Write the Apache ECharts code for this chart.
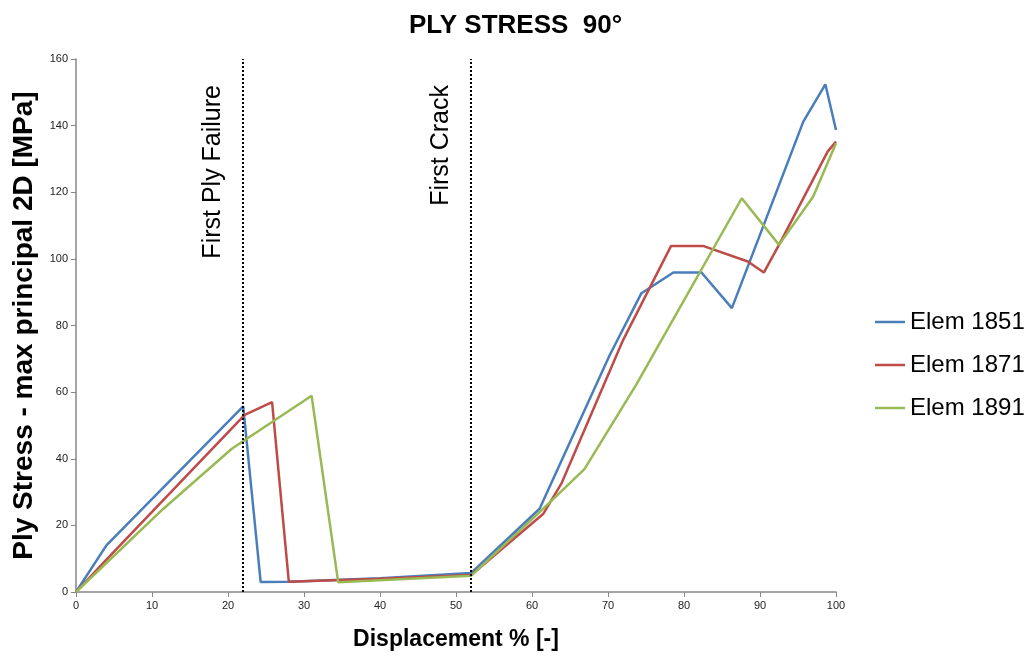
<!DOCTYPE html>
<html>
<head>
<meta charset="utf-8">
<script src="https://cdn.jsdelivr.net/npm/echarts@6/dist/echarts.min.js"></script>
<style>html,body{margin:0;padding:0;background:#fff}#c{width:1031px;height:666px}</style>
</head>
<body>
<div id="c"></div>
<script>
const seriesNames = ['Elem 1851', 'Elem 1871', 'Elem 1891'];
const xTicks = [0, 10, 20, 30, 40, 50, 60, 70, 80, 90, 100];
const yTicks = [0, 20, 40, 60, 80, 100, 120, 140, 160];

const elem1851X = [0, 4, 22, 24.3, 28, 40, 52, 61, 64, 70.2, 74.4, 78.6, 82.3, 86.3, 95.7, 98.6, 100];
const elem1851Y = [0, 14, 55.7, 3, 3.1, 4.1, 5.7, 25, 40, 71, 89.7, 95.9, 95.9, 85.2, 141.2, 152.4, 138.7];

const elem1871X = [0, 4, 22.2, 25.8, 28, 40, 52, 61.5, 63.9, 72, 78.3, 82.5, 88.4, 90.5, 92.5, 98.9, 100];
const elem1871Y = [0, 9.7, 53.2, 57, 3.1, 4, 5.1, 23.5, 32.7, 75.7, 103.9, 103.9, 99.2, 95.9, 104.2, 132.2, 135.2];

const elem1891X = [0, 11.5, 20.5, 31, 34.5, 52, 61, 66.9, 73.7, 87.6, 92.5, 97, 100];
const elem1891Y = [0, 25, 43, 58.9, 2.9, 4.9, 24, 36.9, 62.2, 118.2, 104.2, 118.7, 134.7];

const markerX = [22, 52];
const markerLabels = ['First Ply Failure', 'First Crack'];

const colors = ['#4a7ebb', '#be4b48', '#98b954'];

function pairs(xs, ys) { return xs.map((x, i) => [x, ys[i]]); }

const chart = echarts.init(document.getElementById('c'), null, { renderer: 'canvas' });
const font = 'Liberation Sans, Arial, sans-serif';

const data = [pairs(elem1851X, elem1851Y), pairs(elem1871X, elem1871Y), pairs(elem1891X, elem1891Y)];

const series = seriesNames.map((n, i) => ({
  name: n,
  type: 'line',
  data: data[i],
  symbol: 'none',
  showSymbol: false,
  lineStyle: { color: colors[i], width: 2.5 },
  itemStyle: { color: colors[i] },
  z: 3,
  animation: false
}));

series[0].markLine = {
  silent: true,
  symbol: 'none',
  animation: false,
  lineStyle: { color: '#000', type: [2, 2], width: 2 },
  label: {
    show: true,
    position: 'insideEndTop',
    fontFamily: font,
    fontSize: 25,
    color: '#000',
    distance: [26, 18]
  },
  data: markerX.map((x, i) => ({ xAxis: x, label: { formatter: markerLabels[i] } }))
};

chart.setOption({
  animation: false,
  title: {
    text: 'PLY STRESS  90°',
    left: 'center',
    top: 8,
    textStyle: { fontFamily: font, fontWeight: 'bold', fontSize: 26, color: '#000' }
  },
  legend: {
    orient: 'vertical',
    left: 870,
    top: 305,
    icon: 'rect',
    itemWidth: 30,
    itemHeight: 2.5,
    itemGap: 19,
    textStyle: { fontFamily: font, fontSize: 24, color: '#000' },
    data: seriesNames
  },
  grid: { left: 76, right: 195, top: 59, bottom: 74, containLabel: false },
  xAxis: {
    type: 'value',
    min: xTicks[0],
    max: xTicks[xTicks.length - 1],
    interval: xTicks[1] - xTicks[0],
    name: 'Displacement % [-]',
    nameLocation: 'middle',
    nameGap: 36,
    nameTextStyle: { fontFamily: font, fontWeight: 'bold', fontSize: 23, color: '#000' },
    axisLine: { show: true, lineStyle: { color: '#868686', width: 1.5 } },
    axisTick: { show: true, length: 5, lineStyle: { color: '#868686' } },
    axisLabel: { fontFamily: font, fontSize: 11, color: '#222', margin: 8 },
    splitLine: { show: false }
  },
  yAxis: {
    type: 'value',
    min: yTicks[0],
    max: yTicks[yTicks.length - 1],
    interval: yTicks[1] - yTicks[0],
    name: 'Ply Stress - max principal 2D [MPa]',
    nameLocation: 'middle',
    nameGap: 38,
    nameTextStyle: { fontFamily: font, fontWeight: 'bold', fontSize: 28, color: '#000' },
    axisLine: { show: true, lineStyle: { color: '#868686', width: 1.5 } },
    axisTick: { show: true, length: 5, lineStyle: { color: '#868686' } },
    axisLabel: { fontFamily: font, fontSize: 11, color: '#222', margin: 8 },
    splitLine: { show: false }
  },
  series: series
});
</script>
</body>
</html>
